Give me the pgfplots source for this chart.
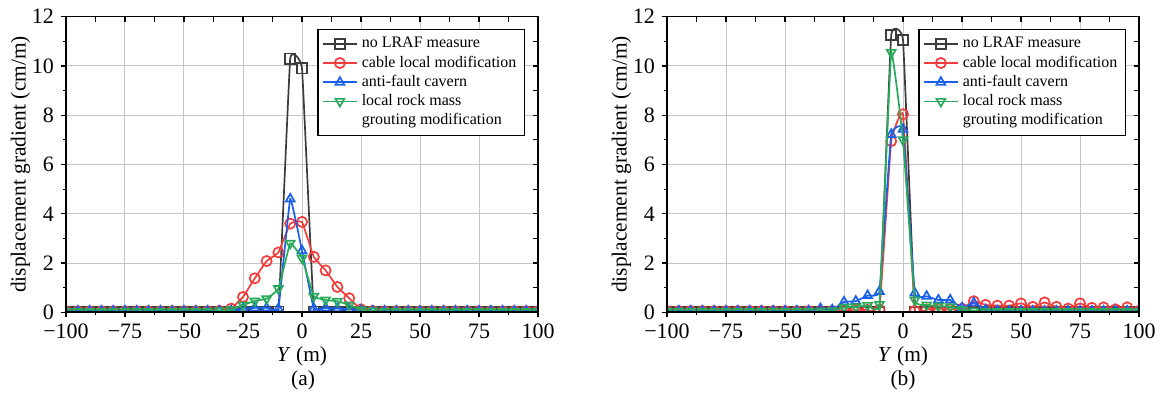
\documentclass[border=0pt]{standalone}
\usepackage{fontspec}
\setmainfont{Liberation Serif}
\usepackage{pgfplots}
\usepackage{pgfplotstable}
\pgfplotsset{compat=1.18}
\definecolor{cK}{RGB}{60,60,60}
\definecolor{cR}{RGB}{245,60,60}
\definecolor{cB}{RGB}{25,95,235}
\definecolor{cG}{RGB}{40,170,90}

\pgfplotstableread{
x k r b g
-100 0.02 0.04 0.05 0.03
-95 0.02 0.04 0.05 0.03
-90 0.02 0.04 0.05 0.03
-85 0.02 0.04 0.05 0.03
-80 0.02 0.04 0.05 0.03
-75 0.02 0.04 0.05 0.03
-70 0.02 0.04 0.05 0.03
-65 0.02 0.04 0.05 0.03
-60 0.02 0.04 0.05 0.03
-55 0.02 0.04 0.05 0.03
-50 0.02 0.04 0.05 0.03
-45 0.02 0.04 0.05 0.03
-40 0.02 0.04 0.05 0.03
-35 0.02 0.06 0.05 0.06
-30 0.02 0.15 0.06 0.10
-25 0.02 0.62 0.15 0.30
-20 0.02 1.38 0.18 0.46
-15 0.02 2.08 0.18 0.55
-10 0.03 2.43 0.15 0.96
-5 10.30 3.60 4.60 2.80
0 9.90 3.67 2.50 2.20
5 0.03 2.25 0.15 0.65
10 0.02 1.70 0.18 0.50
15 0.02 1.03 0.15 0.45
20 0.02 0.57 0.12 0.30
25 0.02 0.12 0.08 0.10
30 0.02 0.06 0.05 0.06
35 0.02 0.04 0.05 0.03
40 0.02 0.04 0.05 0.03
45 0.02 0.04 0.05 0.03
50 0.02 0.04 0.05 0.03
55 0.02 0.04 0.05 0.03
60 0.02 0.04 0.05 0.03
65 0.02 0.04 0.05 0.03
70 0.02 0.04 0.05 0.03
75 0.02 0.04 0.05 0.03
80 0.02 0.04 0.05 0.03
85 0.02 0.04 0.05 0.03
90 0.02 0.04 0.05 0.03
95 0.02 0.04 0.05 0.03
100 0.02 0.04 0.05 0.03
}\tabA

\pgfplotstableread{
x k r b g
-100 0.02 0.05 0.05 0.03
-95 0.02 0.05 0.05 0.03
-90 0.02 0.05 0.05 0.03
-85 0.02 0.05 0.05 0.03
-80 0.02 0.05 0.05 0.03
-75 0.02 0.05 0.05 0.03
-70 0.02 0.05 0.05 0.03
-65 0.02 0.05 0.05 0.03
-60 0.02 0.05 0.05 0.03
-55 0.02 0.05 0.05 0.03
-50 0.02 0.05 0.05 0.03
-45 0.02 0.05 0.05 0.03
-40 0.02 0.05 0.06 0.03
-35 0.02 0.05 0.15 0.04
-30 0.02 0.06 0.10 0.06
-25 0.02 0.08 0.42 0.20
-20 0.02 0.08 0.45 0.22
-15 0.02 0.10 0.68 0.28
-10 0.02 0.10 0.85 0.32
-5 11.25 6.95 7.22 10.55
0 11.06 8.04 7.43 7.00
5 0.02 0.06 0.78 0.50
10 0.02 0.12 0.65 0.30
15 0.02 0.15 0.50 0.25
20 0.02 0.12 0.50 0.22
25 0.02 0.15 0.18 0.10
30 0.02 0.45 0.38 0.05
35 0.02 0.30 0.10 0.04
40 0.02 0.27 0.06 0.03
45 0.02 0.27 0.05 0.03
50 0.02 0.36 0.05 0.03
55 0.02 0.22 0.05 0.03
60 0.02 0.40 0.05 0.03
65 0.02 0.22 0.05 0.03
70 0.02 0.15 0.05 0.03
75 0.02 0.36 0.05 0.03
80 0.02 0.18 0.05 0.03
85 0.02 0.20 0.05 0.03
90 0.02 0.12 0.05 0.03
95 0.02 0.20 0.05 0.03
100 0.02 0.06 0.05 0.03
}\tabB

\pgfplotsset{
 base/.style={
  scale only axis, width=236pt, height=147.8pt,
  xmin=-100,xmax=100,ymin=0,ymax=12,
  xtick={-100,-75,...,100}, minor x tick num=1,
  ytick={0,2,...,12}, minor y tick num=1,
  axis line style={line width=0.8pt},
  every tick/.style={black, line width=0.6pt},
  major tick length=2.5pt, minor tick length=1.6pt,
 },
 main/.style={base,
  tick align=outside, tick pos=left,
  xticklabels={−100,−75,−50,−25,0,25,50,75,100},
  yticklabels={0,2,4,6,8,10,12},
  grid=major, grid style={gray!45, line width=0.5pt},
  ticklabel style={font=\fontsize{11}{12}\selectfont},
  label style={font=\fontsize{10.7}{12}\selectfont},
  xlabel={\textit{Y} (m)}, ylabel={displacement gradient (cm/m)},
  xlabel shift=-3pt, ylabel shift=-6pt,
  clip marker paths=true,
  legend style={at={(1,1)},anchor=north east, xshift=-6.5pt, yshift=-6pt,
    font=\fontsize{8}{9.5}\selectfont, draw=black, line width=0.6pt,
    inner sep=2pt, row sep=-1.5pt},
  legend cell align=left,
  every axis plot/.append style={line width=0.85pt, mark size=2.55pt, smooth, tension=0.15},
 },
 over/.style={base, tick align=inside, tick pos=right,
  xticklabels={}, yticklabels={}, minor tick length=2.5pt},
 sK/.style={color=cK, mark=square},
 sR/.style={color=cR, mark=o},
 sB/.style={color=cB, mark=triangle},
 sG/.style={color=cG, mark=triangle, mark options={rotate=180}},
}

\begin{document}
\begin{tikzpicture}
\path[use as bounding box] (-33pt,-41.35pt) rectangle (547.5pt,156.15pt);
% panel (a)
\begin{axis}[main, at={(0pt,0pt)}, anchor=south west]
\addplot[sK] table[x=x,y=k] {\tabA};
\addplot[sR] table[x=x,y=r] {\tabA};
\addplot[sB] table[x=x,y=b] {\tabA};
\addplot[sG] table[x=x,y=g] {\tabA};
\addlegendentry{no LRAF measure}
\addlegendentry{cable local modification}
\addlegendentry{anti-fault cavern}
\addlegendentry{local rock mass}
\addlegendimage{empty legend}
\addlegendentry{grouting modification}
\end{axis}
\begin{axis}[over, at={(0pt,0pt)}, anchor=south west]
\end{axis}
% panel (b)
\begin{axis}[main, at={(300.5pt,0pt)}, anchor=south west]
\addplot[sK] table[x=x,y=k] {\tabB};
\addplot[sR] table[x=x,y=r] {\tabB};
\addplot[sB] table[x=x,y=b] {\tabB};
\addplot[sG] table[x=x,y=g] {\tabB};
\addlegendentry{no LRAF measure}
\addlegendentry{cable local modification}
\addlegendentry{anti-fault cavern}
\addlegendentry{local rock mass}
\addlegendimage{empty legend}
\addlegendentry{grouting modification}
\end{axis}
\begin{axis}[over, at={(300.5pt,0pt)}, anchor=south west]
\end{axis}
\node[font=\fontsize{10.7}{12}\selectfont] at (118.5pt,-33.9pt) {(a)};
\node[font=\fontsize{10.7}{12}\selectfont] at (418.5pt,-33.9pt) {(b)};
\end{tikzpicture}
\end{document}
